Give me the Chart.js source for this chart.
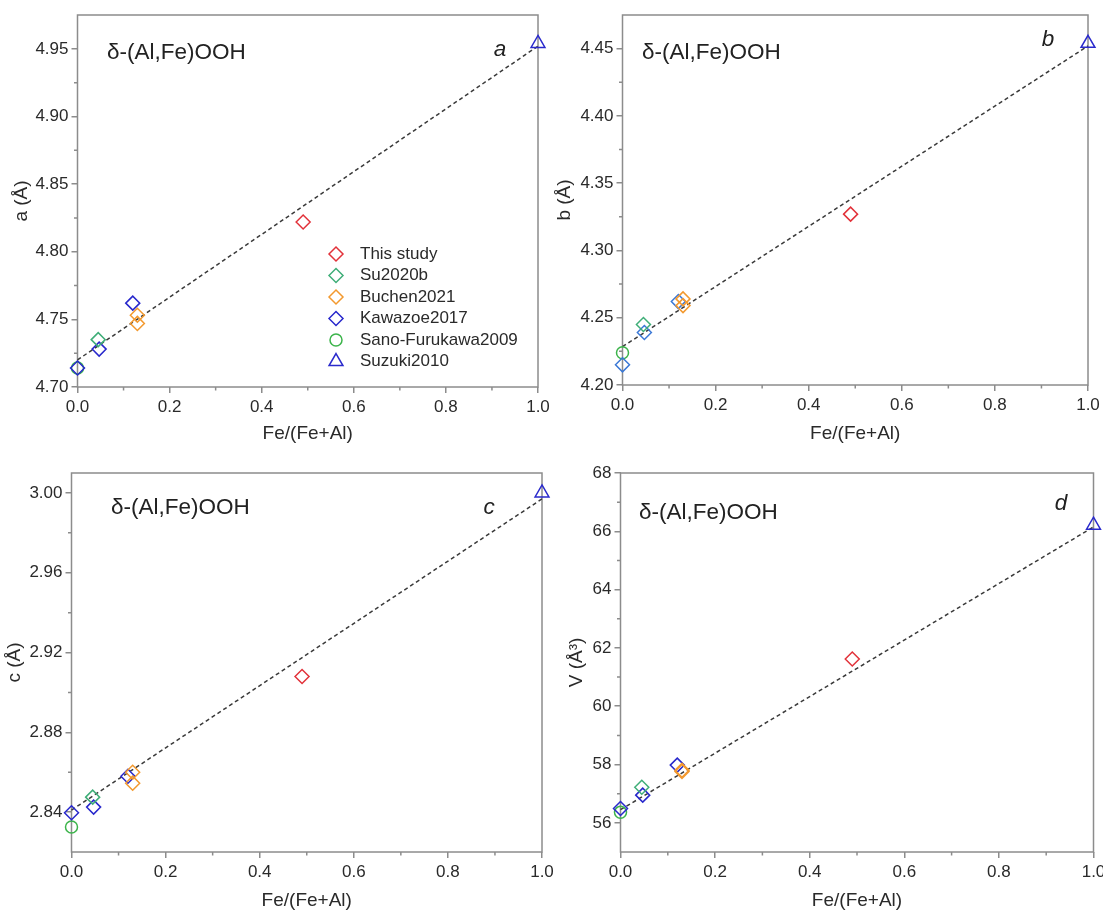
<!DOCTYPE html>
<html>
<head>
<meta charset="utf-8">
<title>δ-(Al,Fe)OOH lattice parameters</title>
<script src="https://cdn.jsdelivr.net/npm/chart.js@4/dist/chart.umd.min.js"></script>
<style>
    body { margin: 0; background: #fff; }
    #wrap { position: relative; width: 1103px; height: 912px; overflow: hidden; font-family: Arial, "Liberation Sans", sans-serif; }
    .panel { position: absolute; }
    .note { position: absolute; font-size: 22.5px; color: #222; line-height: 1; white-space: nowrap; transform: translateY(-50%); }
    .letter { font-style: italic; transform: translate(-50%, -50%); }
</style>
</head>
<body>
<div id="wrap">
    <canvas id="chartA" class="panel" width="562" height="450" style="left:0;top:0"></canvas>
    <canvas id="chartB" class="panel" width="553" height="450" style="left:550px;top:0"></canvas>
    <canvas id="chartC" class="panel" width="562" height="462" style="left:0;top:450px"></canvas>
    <canvas id="chartD" class="panel" width="553" height="462" style="left:550px;top:450px"></canvas>

    <div class="note" style="left:107px;top:52px">δ-(Al,Fe)OOH</div>
    <div class="note letter" style="left:500px;top:49px">a</div>
    <div class="note" style="left:642px;top:52px">δ-(Al,Fe)OOH</div>
    <div class="note letter" style="left:1048px;top:39px">b</div>
    <div class="note" style="left:111px;top:507px">δ-(Al,Fe)OOH</div>
    <div class="note letter" style="left:489px;top:507px">c</div>
    <div class="note" style="left:639px;top:512px">δ-(Al,Fe)OOH</div>
    <div class="note letter" style="left:1061px;top:503px">d</div>
</div>

<script>
const seriesNames = ['This study', 'Su2020b', 'Buchen2021', 'Kawazoe2017', 'Sano-Furukawa2009', 'Suzuki2010'];
const feFraction = [[0.49], [0.045], [0.13, 0.13], [0, 0.047, 0.12], [0], [1.0]];

const aValues = [[4.822], [4.735], [4.753, 4.747], [4.714, 4.728, 4.762], [4.714], [4.954]];
const bValues = [[4.327], [4.245], [4.264, 4.259], [4.215, 4.239, 4.262], [4.224], [4.454]];
const cValues = [[2.908], [2.8475], [2.860, 2.8545], [2.8397, 2.8425, 2.858], [2.8325], [3.000]];
const dValues = [[61.62], [57.22], [57.80, 57.76], [56.49, 56.95, 57.98], [56.36], [66.21]];

// dashed linear fit, read at Fe/(Fe+Al) = 0 and 1
const fitX = [0, 1];
const aFit = [4.720, 4.952];
const bFit = [4.2285, 4.452];
const cFit = [2.841, 2.997];
const dFit = [56.45, 66.15];

const xTicks = [0, 0.2, 0.4, 0.6, 0.8, 1.0];
const xMinorTicks = [0.1, 0.3, 0.5, 0.7, 0.9];
const aTicks = [4.70, 4.75, 4.80, 4.85, 4.90, 4.95];
const aMinorTicks = [4.725, 4.775, 4.825, 4.875, 4.925];
const bTicks = [4.20, 4.25, 4.30, 4.35, 4.40, 4.45];
const bMinorTicks = [4.225, 4.275, 4.325, 4.375, 4.425];
const cTicks = [2.84, 2.88, 2.92, 2.96, 3.00];
const cMinorTicks = [2.86, 2.90, 2.94, 2.98];
const dTicks = [56, 58, 60, 62, 64, 66, 68];
const dMinorTicks = [57, 59, 61, 63, 65, 67];

const seriesColors = ['#e2323a', '#3fae78', '#f3992e', '#2828cc', '#3cb44b', '#2a2acc'];
const seriesShapes = ['rectRot', 'rectRot', 'rectRot', 'rectRot', 'circle', 'triangle'];
const seriesRadius = [7, 7, 7, 7, 6, 8];
const axisColor = '#8c8c8c';
const textColor = '#2a2a2a';
const fontFamily = 'Arial, "Liberation Sans", sans-serif';

const panels = [
    { canvas: 'chartA', values: aValues, fit: aFit, ticks: aTicks, minor: aMinorTicks, yMin: 4.70, yMax: 4.975, decimals: 2,
      yTitle: 'a (Å)', padding: { left: 0, top: 15, right: 24, bottom: 0 }, yWidth: 77.5, xHeight: 63, xTitlePad: 5, yTitlePad: 10, legend: true },
    { canvas: 'chartB', values: bValues, fit: bFit, ticks: bTicks, minor: bMinorTicks, yMin: 4.20, yMax: 4.475, decimals: 2,
      yTitle: 'b (Å)', padding: { left: 0, top: 15, right: 15, bottom: 0 }, yWidth: 72.5, xHeight: 65, xTitlePad: 5, yTitlePad: 3,
      kawazoeColor: '#3a78d6' },
    { canvas: 'chartC', values: cValues, fit: cFit, ticks: cTicks, minor: cMinorTicks, yMin: 2.82, yMax: 3.01, decimals: 2,
      yTitle: 'c (Å)', padding: { left: 0, top: 23, right: 20, bottom: 0 }, yWidth: 71.5, xHeight: 60, xTitlePad: 0, yTitlePad: 3 },
    { canvas: 'chartD', values: dValues, fit: dFit, ticks: dTicks, minor: dMinorTicks, yMin: 55, yMax: 68, decimals: 0,
      yTitle: 'V (Å³)', padding: { left: 0, top: 23, right: 7, bottom: 0 }, yWidth: 70.5, xHeight: 60, xTitlePad: 0, yTitlePad: 15 }
];

const framePlugin = {
    id: 'frame',
    beforeDatasetsDraw(chart, args, opts) {
        const { ctx, chartArea: area, scales } = chart;
        ctx.save();
        ctx.strokeStyle = axisColor;
        ctx.lineWidth = 1.5;
        ctx.strokeRect(area.left, area.top, area.right - area.left, area.bottom - area.top);
        ctx.beginPath();
        (opts.minorX || []).forEach(v => {
            const px = scales.x.getPixelForValue(v);
            ctx.moveTo(px, area.bottom);
            ctx.lineTo(px, area.bottom + 3.5);
        });
        (opts.minorY || []).forEach(v => {
            const py = scales.y.getPixelForValue(v);
            ctx.moveTo(area.left, py);
            ctx.lineTo(area.left - 3.5, py);
        });
        ctx.stroke();
        ctx.restore();
    },
    afterDraw(chart, args, opts) {
        if (!opts.legend) return;
        const ctx = chart.ctx;
        ctx.save();
        ctx.font = '17px ' + fontFamily;
        ctx.textBaseline = 'middle';
        seriesNames.forEach((name, i) => {
            const y = 254 + i * 21.5;
            ctx.strokeStyle = seriesColors[i];
            ctx.fillStyle = 'rgba(0,0,0,0)';
            ctx.lineWidth = 1.5;
            Chart.helpers.drawPoint(ctx, { pointStyle: seriesShapes[i], radius: seriesRadius[i], borderWidth: 1.5, rotation: 0 }, 336, y);
            ctx.fillStyle = textColor;
            ctx.fillText(name, 360, y);
        });
        ctx.restore();
    }
};

function montarDatasets(panel) {
    const datasets = seriesNames.map((name, i) => {
        const color = (i === 3 && panel.kawazoeColor) ? panel.kawazoeColor : seriesColors[i];
        return {
            label: name,
            data: panel.values[i].map((v, k) => ({ x: feFraction[i][k], y: v })),
            pointStyle: seriesShapes[i],
            pointRadius: seriesRadius[i],
            pointHoverRadius: seriesRadius[i],
            pointBorderColor: color,
            pointBackgroundColor: 'rgba(0,0,0,0)',
            pointBorderWidth: 1.5,
            showLine: false,
            clip: false
        };
    });
    datasets.push({
        type: 'line',
        label: 'fit',
        data: panel.fit.map((v, k) => ({ x: fitX[k], y: v })),
        borderColor: '#3a3a3a',
        borderWidth: 1.5,
        borderDash: [4, 3],
        pointRadius: 0,
        fill: false,
        clip: false
    });
    return datasets;
}

function criarGrafico(panel) {
    const ctx = document.getElementById(panel.canvas).getContext('2d');
    const tickFont = { family: fontFamily, size: 17 };
    const titleFont = { family: fontFamily, size: 19 };
    const grid = { display: true, drawOnChartArea: false, drawTicks: true, tickLength: 6, color: axisColor, lineWidth: 1.5 };

    return new Chart(ctx, {
        type: 'scatter',
        data: { datasets: montarDatasets(panel) },
        options: {
            responsive: false,
            animation: false,
            devicePixelRatio: 1,
            layout: { padding: panel.padding },
            plugins: {
                legend: { display: false },
                tooltip: { enabled: false },
                frame: { minorX: xMinorTicks, minorY: panel.minor, legend: !!panel.legend }
            },
            scales: {
                x: {
                    type: 'linear',
                    min: 0,
                    max: 1,
                    grid: grid,
                    border: { display: false },
                    afterBuildTicks: axis => { axis.ticks = xTicks.map(v => ({ value: v })); },
                    afterFit: axis => {
                        axis.height = panel.xHeight;
                        axis.paddingLeft = 0;
                        axis.paddingRight = 0;
                    },
                    ticks: {
                        font: tickFont,
                        color: textColor,
                        padding: 4,
                        maxRotation: 0,
                        callback: v => Number(v).toFixed(1)
                    },
                    title: {
                        display: true,
                        text: 'Fe/(Fe+Al)',
                        font: titleFont,
                        color: textColor,
                        padding: { top: 0, bottom: panel.xTitlePad }
                    }
                },
                y: {
                    type: 'linear',
                    min: panel.yMin,
                    max: panel.yMax,
                    grid: grid,
                    border: { display: false },
                    afterBuildTicks: axis => { axis.ticks = panel.ticks.map(v => ({ value: v })); },
                    afterFit: axis => {
                        axis.width = panel.yWidth;
                        axis.paddingTop = 0;
                        axis.paddingBottom = 0;
                    },
                    ticks: {
                        font: tickFont,
                        color: textColor,
                        padding: 3,
                        callback: v => Number(v).toFixed(panel.decimals)
                    },
                    title: {
                        display: true,
                        text: panel.yTitle,
                        font: titleFont,
                        color: textColor,
                        padding: { top: panel.yTitlePad, bottom: 0 }
                    }
                }
            }
        },
        plugins: [framePlugin]
    });
}

document.addEventListener('DOMContentLoaded', () => {
    panels.forEach(criarGrafico);
});
</script>
</body>
</html>
